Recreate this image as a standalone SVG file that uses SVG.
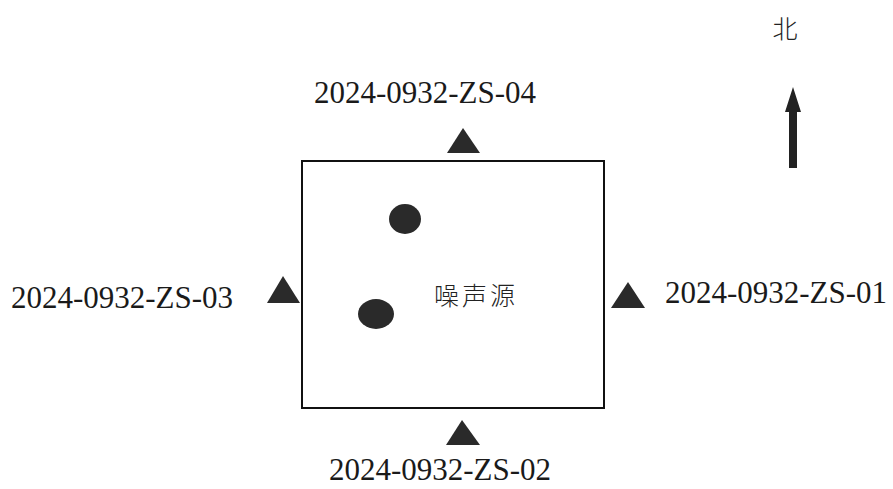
<svg xmlns="http://www.w3.org/2000/svg" width="893" height="489" viewBox="0 0 893 489">
<style>
.lbl{font-family:"Liberation Serif","Times New Roman",serif;font-size:31px;fill:#1a1a1a}
.cjk{font-family:"Noto Sans CJK SC","Noto Sans CJK JP",sans-serif;fill:#222;font-weight:300}
.pt{fill:#2a2a2a}
</style>
<rect width="893" height="489" fill="#fff"/>
<g id="source">
<rect x="302" y="161" width="302" height="247" fill="none" stroke="#111" stroke-width="2"/>
<ellipse cx="405" cy="219" rx="16" ry="15" class="pt"/>
<ellipse cx="376" cy="314" rx="18" ry="15" class="pt"/>
<text x="476" y="305" class="cjk" font-size="25" text-anchor="middle" letter-spacing="3">噪声源</text>
</g>
<g id="zs04">
<polygon points="463,128 447,153 480,153" class="pt"/>
<text x="425" y="103" class="lbl" text-anchor="middle">2024-0932-ZS-04</text>
</g>
<g id="zs03">
<polygon points="283,276 267,303 300,303" class="pt"/>
<text x="122" y="308" class="lbl" text-anchor="middle">2024-0932-ZS-03</text>
</g>
<g id="zs01">
<polygon points="628,282 611,308 645,308" class="pt"/>
<text x="776" y="303" class="lbl" text-anchor="middle">2024-0932-ZS-01</text>
</g>
<g id="zs02">
<polygon points="462,420 446,445 480,445" class="pt"/>
<text x="440" y="480" class="lbl" text-anchor="middle">2024-0932-ZS-02</text>
</g>
<g id="north">
<text x="785" y="38" class="cjk" font-size="25" text-anchor="middle">北</text>
<polygon points="793,87 785,112 789,112 789,168 797,168 797,112 801,112" fill="#222"/>
</g>
<g id="connectors"></g>
</svg>
